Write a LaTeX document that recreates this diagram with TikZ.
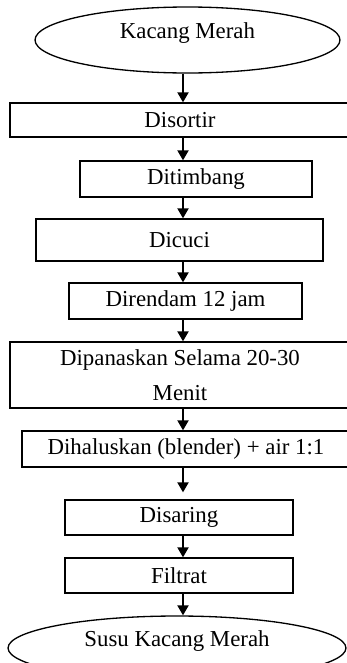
\documentclass[tikz,border=0pt]{standalone}
\usepackage{fontspec}
\setmainfont{Liberation Serif}
\usetikzlibrary{shapes.geometric,arrows.meta}
\tikzset{
  terminal/.style={ellipse, draw=black, line width=0.75pt, inner sep=0pt, text height=0.3cm, text depth=0.38cm},
  proses/.style={rectangle, draw=black, line width=0.75pt, inner sep=0pt},
  panah/.style={line width=1.1pt, -{Triangle[width=0.22cm,length=0.2cm]}}
}
\begin{document}
\begin{tikzpicture}[x=0.02cm, y=-0.02cm, font=\fontsize{13}{15}\selectfont]
\useasboundingbox (0,0) rectangle (347,663);

% Awal
\node [terminal, minimum width=6.1cm, minimum height=1.32cm] (mulai) at (187.5,40) {Kacang Merah};

% Proses
\node [proses, minimum width=6.8cm, minimum height=0.68cm] (sortir) at (180,120) {Disortir};
\node [proses, minimum width=4.64cm, minimum height=0.72cm] (timbang) at (196,179) {Ditimbang};
\node [proses, minimum width=5.74cm, minimum height=0.84cm] (cuci) at (179.5,240) {Dicuci};
\node [proses, minimum width=4.66cm, minimum height=0.72cm] (rendam) at (185.5,301) {Direndam 12 jam};
\node [proses, minimum width=6.8cm, minimum height=1.32cm, align=center, font=\fontsize{13}{20}\selectfont] (panas) at (180,375) {Dipanaskan Selama 20-30\\Menit};
\node [proses, minimum width=6.56cm, minimum height=0.72cm] (halus) at (186,449) {Dihaluskan (blender) + air 1:1};
\node [proses, minimum width=4.56cm, minimum height=0.7cm] (saring) at (179,517.5) {Disaring};
\node [proses, minimum width=4.56cm, minimum height=0.7cm] (filtrat) at (179,575.5) {Filtrat};

% Akhir
\node [terminal, minimum width=6.76cm, minimum height=1.28cm] (susu) at (177,648) {Susu Kacang Merah};

% Panah
\coordinate (ax) at (183,0);
\draw [panah] (mulai.south -| ax) -- (sortir.north -| ax);
\draw [panah] (sortir.south -| ax) -- (timbang.north -| ax);
\draw [panah] (timbang.south -| ax) -- (cuci.north -| ax);
\draw [panah] (cuci.south -| ax) -- (rendam.north -| ax);
\draw [panah] (rendam.south -| ax) -- (panas.north -| ax);
\draw [panah] (panas.south -| ax) -- (halus.north -| ax);
\draw [panah] (halus.south -| ax) -- ([yshift=0.14cm]saring.north -| ax);
\draw [panah] (saring.south -| ax) -- (filtrat.north -| ax);
\draw [panah] (filtrat.south -| ax) -- (susu.north -| ax);
\end{tikzpicture}
\end{document}
